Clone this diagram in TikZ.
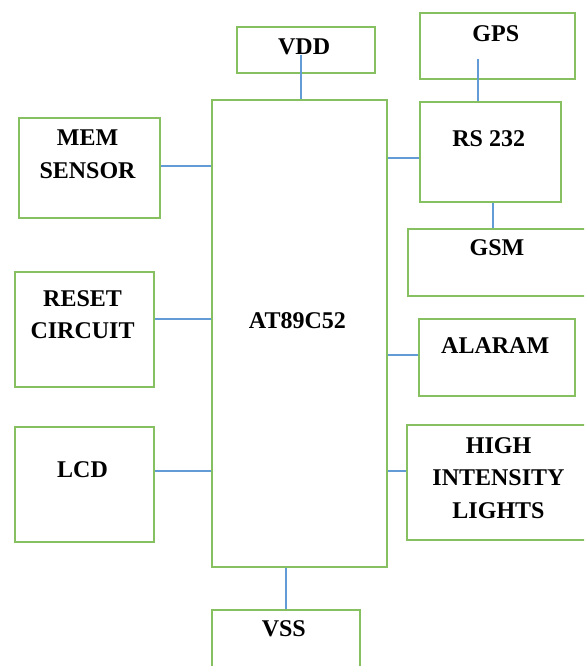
\documentclass[tikz,border=0pt]{standalone}
\usepackage{fontspec}
\setmainfont{Liberation Serif}
\usetikzlibrary{positioning}
\definecolor{boxgreen}{RGB}{134,192,96}
\definecolor{wireblue}{RGB}{98,155,213}
\tikzset{
  blk/.style={rectangle,draw=boxgreen,line width=2pt,inner sep=0pt},
  lbl/.style={inner sep=0pt,align=center,font=\fontsize{24}{32.5}\selectfont\bfseries,xshift=-2pt},
  wire/.style={draw=wireblue,line width=1.6pt}
}
\begin{document}
\begin{tikzpicture}[x=1pt,y=-1pt]
\useasboundingbox (0,0) rectangle (584,666);
\clip (0,0) rectangle (584,666);
% blocks
\node[blk,minimum width=175.8pt,minimum height=467.6pt] (mcu) at (299.4,333.5) {};
\node[blk,minimum width=137.8pt,minimum height=45.4pt] (vdd) at (306.1,50) {};
\node[blk,minimum width=155.3pt,minimum height=65.7pt] (gps) at (497.75,46.15) {};
\node[blk,minimum width=141.2pt,minimum height=100pt] (rs) at (490.7,151.7) {};
\node[blk,minimum width=181.6pt,minimum height=67.6pt] (gsm) at (499,262.5) {};
\node[blk,minimum width=141.1pt,minimum height=100.3pt] (mem) at (89.55,168.15) {};
\node[blk,minimum width=139.3pt,minimum height=115pt] (rst) at (84.55,329.8) {};
\node[blk,minimum width=156.4pt,minimum height=77.3pt] (alm) at (497.2,357.65) {};
\node[blk,minimum width=139.3pt,minimum height=115pt] (lcd) at (84.55,484.5) {};
\node[blk,minimum width=187.6pt,minimum height=115pt] (hil) at (500.5,482.8) {};
\node[blk,minimum width=148.6pt,minimum height=80pt] (vss) at (285.8,649.7) {};
% texts
\node[lbl] (mcutxt) at ([yshift=12.5pt]mcu.center) {AT89C52};
\node[lbl,below=12.7pt of vdd.north] (vddtxt) {VDD};
\node[lbl,below=13.4pt of gps.north] (gpstxt) {GPS};
\node[lbl,below=29.3pt of rs.north] (rstxt) {RS 232};
\node[lbl,below=11.3pt of gsm.north] (gsmtxt) {GSM};
\node[lbl,below=13pt of mem.north] (memtxt) {MEM\\SENSOR};
\node[lbl,below=18.7pt of rst.north] (rsttxt) {RESET\\CIRCUIT};
\node[lbl,below=19pt of alm.north] (almtxt) {ALARAM};
\node[lbl,below=35.3pt of lcd.north] (lcdtxt) {LCD};
\node[lbl,below=12.7pt of hil.north] (hiltxt) {HIGH\\INTENSITY\\LIGHTS};
\node[lbl,below=11.6pt of vss.north] (vsstxt) {VSS};
% wires
\draw[wire] ([shift={(-5.1pt,-5pt)}]vdd.center) coordinate (v1) -- (v1 |- mcu.north);
\draw[wire] ([shift={(-20pt,-13.2pt)}]gps.center) coordinate (g1) -- (g1 |- rs.north);
\draw[wire] ([yshift=-6pt]rs.west) coordinate (r1) -- (r1 -| mcu.east);
\draw[wire] ([xshift=2pt]rs.south) coordinate (r2) -- (r2 |- gsm.north);
\draw[wire] ([yshift=2pt]mem.east) coordinate (m1) -- (m1 -| mcu.west);
\draw[wire] ([yshift=10.8pt]rst.east) coordinate (c1) -- (c1 -| mcu.west);
\draw[wire] ([yshift=2.5pt]alm.west) coordinate (a1) -- (a1 -| mcu.east);
\draw[wire] ([yshift=13.8pt]lcd.east) coordinate (l1) -- (l1 -| mcu.west);
\draw[wire] ([yshift=12pt]hil.west) coordinate (h1) -- (h1 -| mcu.east);
\draw[wire] (vss.north) -- (vss.north |- mcu.south);
\end{tikzpicture}
\end{document}
